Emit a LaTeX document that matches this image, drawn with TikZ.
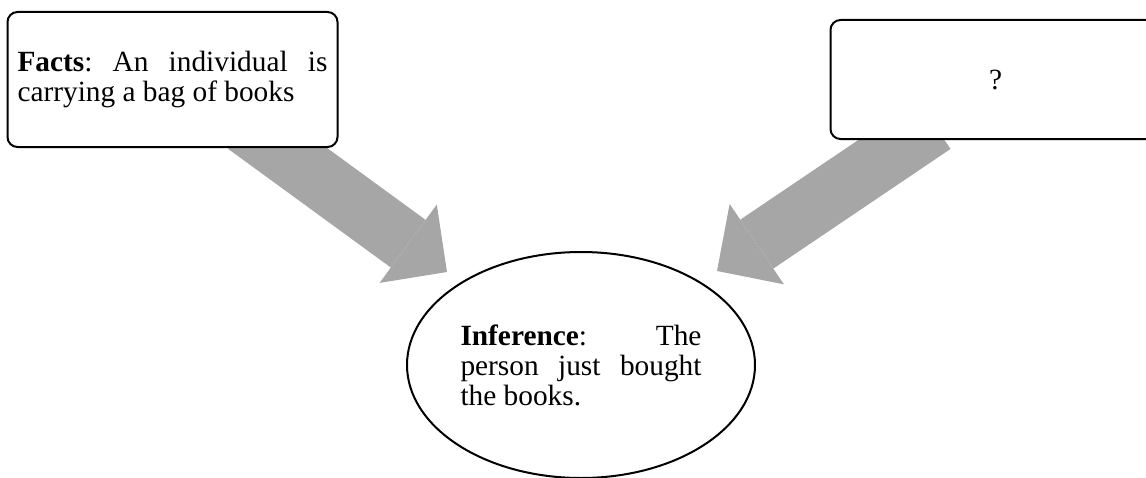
\documentclass[tikz,border=0pt]{standalone}
\usepackage{fontspec}
\setmainfont{Liberation Serif}
\usetikzlibrary{positioning, arrows.meta, shapes.geometric, backgrounds}
\definecolor{ArrowGrey}{HTML}{A6A6A6}
\newcommand{\spreadline}[2]{\makebox[#1][s]{#2}}

\begin{document}
\begin{tikzpicture}[
  x=0.75pt, y=-0.75pt,
  every node/.style={font=\fontsize{22}{22.5}\selectfont\frenchspacing},
  card/.style={draw, line width=1.5pt, rounded corners=7.5pt, fill=white,
    minimum width=247.5pt, minimum height=101.25pt, inner xsep=7.5pt},
  bubble/.style={draw, ellipse, line width=1.5pt, fill=white,
    minimum width=261pt, minimum height=169.5pt, inner sep=0pt},
  fatarr/.style={draw=ArrowGrey, line width=44.25pt,
    -{Triangle[length=36pt, width=72.75pt, line width=0pt]}}
]
  \useasboundingbox (0,0) rectangle (1146,478);
  \clip (0,0) rectangle (1146,478);

  % Facts
  \node[card, text width=232.5pt, align=justify] (facts) at (172.5,79.5)
    {\spreadline{232.5pt}{\textbf{Facts}: An individual is}\\carrying a bag of books};

  % Unknown premise
  \node[card, minimum height=89.25pt, right=368.25pt of facts] (unknown) {?};

  % Inference
  \node[bubble, text width=180.75pt, align=justify] (infer) at (581,365)
    {\spreadline{180.75pt}{\textbf{Inference}: The}\\
     \spreadline{180.75pt}{person just bought}\\the books.};

  % Arrows
  \coordinate (factsout) at ([shift={(73,-23)}]facts.south);
  \coordinate (unknownout) at ([shift={(-61.5,-15.5)}]unknown.south);
  \coordinate (infertipl) at ([shift={(-134,-93)}]infer.center);
  \coordinate (infertipr) at ([shift={(136,-94)}]infer.center);
  \begin{scope}[on background layer]
    \draw[fatarr] (factsout) -- (infertipl);
    \draw[fatarr] (unknownout) -- (infertipr);
  \end{scope}
\end{tikzpicture}
\end{document}
